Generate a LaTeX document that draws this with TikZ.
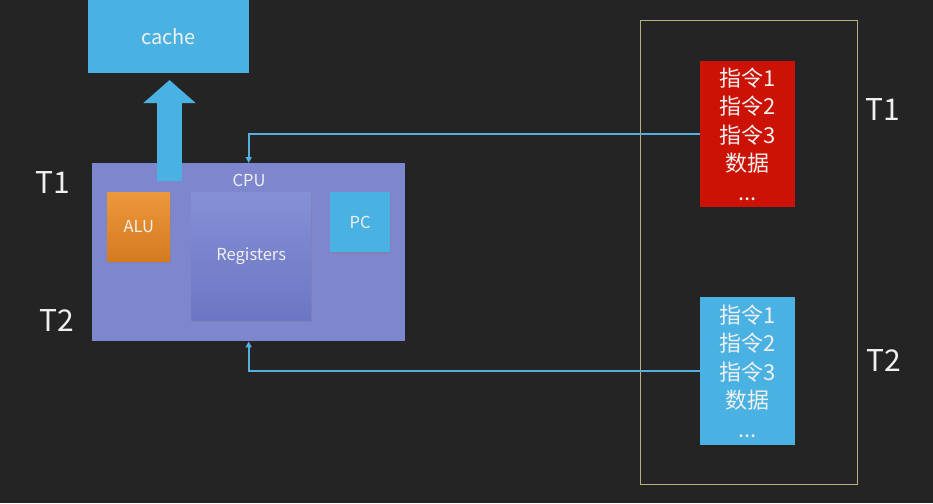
\documentclass[tikz,border=0pt]{standalone}
\usepackage{fontspec}
\setmainfont{Noto Sans CJK SC}
\usetikzlibrary{arrows.meta,shadows}
\definecolor{bg}{RGB}{36,36,36}
\definecolor{skyb}{RGB}{74,178,226}
\definecolor{cpuc}{RGB}{126,134,206}
\definecolor{regtop}{RGB}{134,144,214}
\definecolor{regbot}{RGB}{108,118,196}
\definecolor{alutop}{RGB}{236,152,58}
\definecolor{alubot}{RGB}{214,122,32}
\definecolor{redb}{RGB}{204,18,4}
\definecolor{frame}{RGB}{186,176,128}
\definecolor{linec}{RGB}{84,176,222}
\definecolor{txt}{RGB}{240,240,240}
\tikzset{
  blk/.style={draw=none,inner sep=0pt,anchor=north west,text=txt,font=\fontsize{16.5}{18}\selectfont},
  mem/.style={blk,minimum width=95pt,minimum height=146pt,align=center,font=\fontsize{22}{28.5}\selectfont},
  tlab/.style={text=txt,font=\fontsize{30}{32}\selectfont,inner sep=0pt},
  conn/.style={draw=linec,line width=2pt,-{Triangle[width=6pt,length=6pt]}},
}
\begin{document}
\begin{tikzpicture}[x=1pt,y=-1pt]
\fill[bg] (0,0) rectangle (933,503);
\useasboundingbox (0,0) rectangle (933,503);
% cache
\node[blk,fill=skyb,minimum width=161pt,minimum height=73pt,font=\fontsize{20}{22}\selectfont] (cache) at (88,0) {cache};
% CPU
\node[blk,fill=cpuc,minimum width=313pt,minimum height=178pt] (cpu) at (92,163) {};
\node[text=txt,font=\fontsize{16.5}{18}\selectfont,inner sep=0pt] (cpulab) at (249,180) {CPU};
\node[blk,top color=alutop,bottom color=alubot,minimum width=63pt,minimum height=69pt,drop shadow={opacity=0.35,shadow xshift=1pt,shadow yshift=-2pt}] (alu) at (107,192) {ALU};
\node[blk,top color=regtop,bottom color=regbot,minimum width=120pt,minimum height=128pt,drop shadow={opacity=0.35,shadow xshift=1pt,shadow yshift=-2pt}] (reg) at (191,192) {Registers};
\node[blk,fill=skyb,minimum width=60pt,minimum height=60pt,drop shadow={opacity=0.35,shadow xshift=1pt,shadow yshift=-2pt}] (pc) at (330,192) {PC};
% big arrow cpu -> cache
\coordinate (abot) at (169.5,181);
\coordinate (atop) at (169.5,80);
\draw[draw=skyb,line width=25pt,-{Triangle[width=51pt,length=23pt]}] (abot) -- (atop);
% frame
\node[draw=frame,line width=1.2pt,inner sep=0pt,minimum width=217pt,minimum height=464pt,anchor=north west] (fr) at (640,20) {};
% memory blocks
\node[mem,fill=redb] (red) at (700,61) {指令1\\指令2\\指令3\\数据\\...};
\node[mem,fill=skyb,minimum height=148pt] (blue) at (700,297) {指令1\\指令2\\指令3\\数据\\...};
% connectors
\draw[conn] (red.west) -| (cpu.north);
\draw[conn] (blue.west) -| (cpu.south);
% labels
\node[tlab] (t1r) at (883,110) {T1};
\node[tlab] (t2r) at (884,360) {T2};
\node[tlab] (t1l) at (53,183) {T1};
\node[tlab] (t2l) at (57,320) {T2};
\end{tikzpicture}
\end{document}
